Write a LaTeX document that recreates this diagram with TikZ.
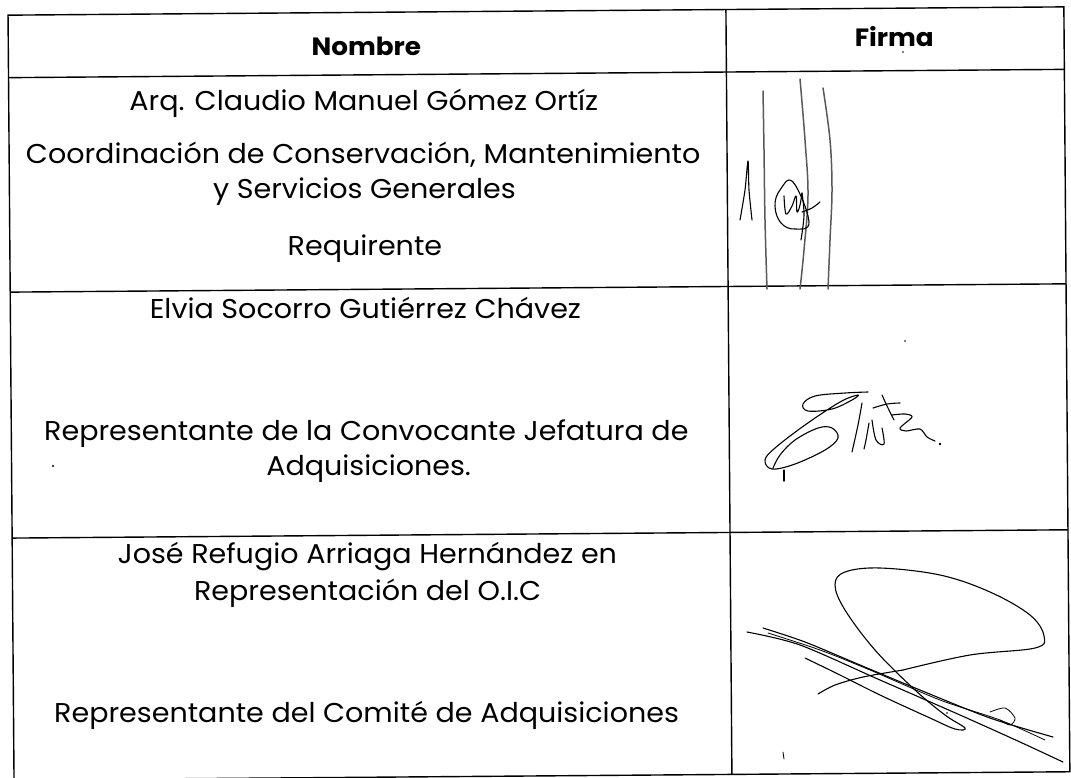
\documentclass[tikz,border=0pt]{standalone}
\usepackage{fontspec}
\setmainfont{Poppins}[FakeStretch=1.05]
\begin{document}
\begin{tikzpicture}[x=1pt,y=-1pt,
  grid/.style={line width=1.4pt, black},
  txt/.style={font=\fontsize{27.2}{31}\selectfont, anchor=base, inner sep=0pt},
  head/.style={font=\fontsize{25}{29}\selectfont\bfseries, anchor=base, inner sep=0pt},
  sig/.style={line width=1.1pt, line cap=round, line join=round, black},
  pen/.style={line width=1.5pt, line cap=round, line join=round, black!65}]
\useasboundingbox (0,0) rectangle (1071,777);
\fill[white] (0,0) rectangle (1071,777);
\begin{scope}[rotate around={0.45:(538,394)}]
% table grid
\coordinate (TL) at (11,11);
\coordinate (TM) at (729,11);
\coordinate (TR) at (1067,11);
\coordinate (BL) at (11,776);
\coordinate (BM) at (729,776);
\coordinate (BR) at (1067,776);
\coordinate (HL) at (11,73.5);
\coordinate (HR) at (1067,73.5);
\coordinate (AL) at (11,288);
\coordinate (AR) at (1067,288);
\coordinate (CL) at (11,534);
\coordinate (CR) at (1067,534);
\draw[grid] (TL) -- (TR) -- (BR) -- (BL) -- cycle;
\draw[grid] (TM) -- (BM);
\draw[grid] (HL) -- (HR);
\draw[grid] (AL) -- (AR);
\draw[grid] (CL) -- (CR);
% header
\node[head] (hn) at (369,54) {Nombre};
\node[head] (hf) at (897,49) {Firma};
% row 1
\node[txt] (r1a) at (366,109) {Arq. Claudio Manuel Gómez Ortíz};
\node[txt] (r1b) at (365,162) {Coordinación de Conservación, Mantenimiento};
\node[txt] (r1c) at (366,197) {y Servicios Generales};
\node[txt] (r1d) at (366,254) {Requirente};
% row 2
\node[txt] (r2a) at (366,317) {Elvia Socorro Gutiérrez Chávez};
\node[txt] (r2b) at (366,439) {Representante de la Convocante Jefatura de};
\node[txt] (r2c) at (368,474) {Adquisiciones.};
% row 3
\node[txt] (r3a) at (366,562) {José Refugio Arriaga Hernández en};
\node[txt] (r3b) at (366,599) {Representación del O.I.C};
\node[txt] (r3c) at (364,721) {Representante del Comité de Adquisiciones};
\end{scope}
% stray dots
\fill (53,466) circle (1.2);
\fill (903,52) circle (0.8);
\fill (905,341) circle (0.8);
\fill (947,713) circle (0.8);
% signature 1
\draw[pen] plot[smooth, tension=0.6] coordinates {(763,91) (764,150) (765,220) (767,289)};
\draw[pen] plot[smooth, tension=0.6] coordinates {(800,79) (805,140) (808,195) (804,250) (800,289)};
\draw[pen] plot[smooth, tension=0.6] coordinates {(823,88) (830,140) (832,190) (830,240) (828,289)};
\draw[sig] plot[smooth, tension=0.5] coordinates {(740,220) (745,190) (748,161) (749,190) (752,220)};
\draw[sig] plot[smooth cycle, tension=0.7] coordinates {(793,182) (780,190) (775,206) (781,223) (795,229) (809,222)};
\draw[sig] plot[smooth, tension=0.6] coordinates {(784,196) (786,214) (792,206) (796,196) (797,212) (800,205) (802,193)};
\draw[sig] plot[smooth, tension=0.6] coordinates {(802,193) (804,215) (801,240)};
\draw[sig] plot[smooth, tension=0.6] coordinates {(802,212) (812,208) (820,202)};
% signature 2
\draw[sig] plot[smooth, tension=0.6] coordinates {(868,392) (845,393) (815,396) (803,404) (808,411) (832,409) (852,400) (858,395) (840,402) (805,425) (775,448) (765,460) (772,469) (795,464) (825,450) (838,438) (832,428) (818,428) (795,440) (780,455) (773,468)};
\draw[sig] (784,470) -- (784,481);
\draw[sig] plot[smooth, tension=0.6] coordinates {(862,403) (858,425) (852,452)};
\draw[sig] plot[smooth, tension=0.6] coordinates {(869,423) (866,440) (864,449)};
\draw[sig] plot[smooth, tension=0.6] coordinates {(872,420) (876,440) (884,444) (882,428)};
\draw[sig] plot[smooth, tension=0.6] coordinates {(873,408) (887,404) (900,403)};
\draw[sig] plot[smooth, tension=0.6] coordinates {(882,395) (888,408) (894,420)};
\draw[sig] plot[smooth, tension=0.5] coordinates {(892,415) (905,414) (912,417) (900,428) (906,431) (920,429) (927,437) (935,441)};
\fill (940,444) circle (1.3);
% signature 3
\draw[sig] plot[smooth, tension=0.6] coordinates {(903,670) (970,655) (1035,648) (1044,636) (1030,615) (990,592) (940,575) (880,568) (845,572) (835,585) (845,610) (875,650) (915,690) (945,715) (965,728) (955,729) (930,718) (880,695) (840,675) (805,658)};
\draw[sig] plot[smooth, tension=0.5] coordinates {(818,694) (835,685) (863,677) (903,670)};
\draw[sig] plot[smooth, tension=0.5] coordinates {(747,632) (800,645) (880,680) (960,715) (1020,742) (1063,762)};
\draw[sig] plot[smooth, tension=0.5] coordinates {(763,628) (805,642) (860,665) (920,690) (990,718) (1053,737)};
\draw[sig, line width=0.8pt] plot[smooth, tension=0.5] coordinates {(768,633) (820,650) (870,670) (940,700) (1000,720) (1045,740)};
\draw[sig, line width=0.8pt] plot[smooth, tension=0.5] coordinates {(990,712) (1005,708) (1015,718) (1010,725) (1000,720)};
\draw[sig, line width=0.8pt] (783,752) -- (784,759);
\end{tikzpicture}
\end{document}
